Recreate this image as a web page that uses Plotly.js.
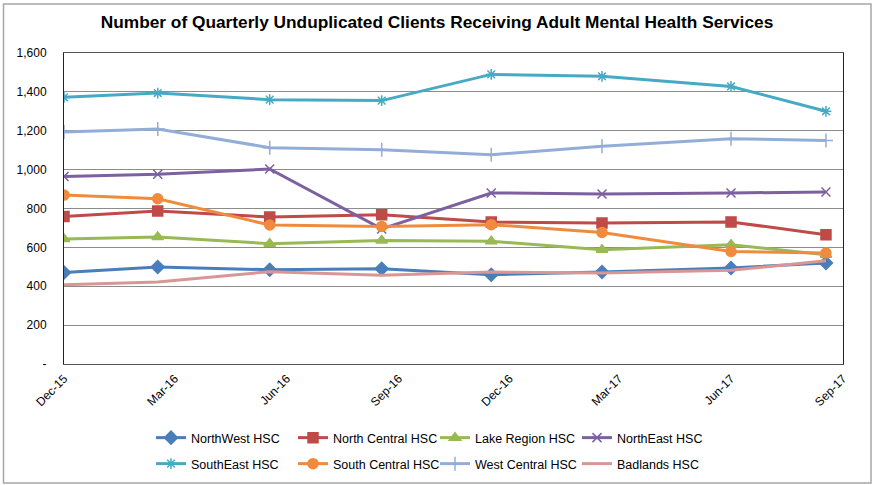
<!DOCTYPE html>
<html>
<head>
<meta charset="utf-8">
<script src="https://cdn.plot.ly/plotly-3.0.1.min.js"></script>
<style>html,body{margin:0;padding:0;background:#fff;}#chart{width:877px;height:485px;}</style>
</head>
<body>
<div id="chart"></div>
<script>
// Data
const dates = ["2015-12-01", "2016-02-16", "2016-05-18", "2016-08-18", "2016-11-16", "2017-02-15", "2017-06-01", "2017-08-18"];
const northWest    = [471, 499, 485, 490, 459, 473, 494, 520];
const northCentral = [759, 787, 756, 768, 730, 725, 731, 665];
const lakeRegion   = [643, 653, 619, 636, 631, 588, 614, 562];
const northEast    = [965, 976, 1003, 695, 880, 875, 880, 885];
const southEast    = [1372, 1394, 1360, 1355, 1490, 1480, 1428, 1300];
const southCentral = [869, 850, 715, 708, 717, 677, 579, 571];
const westCentral  = [1194, 1209, 1113, 1102, 1077, 1120, 1159, 1150];
const badlands     = [408, 422, 475, 456, 473, 468, 482, 531];
const seriesNames  = ["NorthWest HSC", "North Central HSC", "Lake Region HSC", "NorthEast HSC",
                      "SouthEast HSC", "South Central HSC", "West Central HSC", "Badlands HSC"];
const yTickVals    = [0, 200, 400, 600, 800, 1000, 1200, 1400, 1600];
const yTickText    = ["-", "200", "400", "600", "800", "1,000", "1,200", "1,400", "1,600"];
const titleText    = "Number of Quarterly Unduplicated Clients Receiving Adult Mental Health Services";

const values  = [northWest, northCentral, lakeRegion, northEast, southEast, southCentral, westCentral, badlands];
const colors  = ["#4A7EBB", "#BE4B48", "#98B954", "#7D60A0", "#46AAC5", "#F08B3D", "#93AED6", "#D99694"];
const symbols = ["diamond", "square", "triangle-up", "x-thin-open", "asterisk-open", "circle", "cross-thin-open", null];
const msizes  = [10, 10, 10, 9, 9, 10, 10, 0];

const traces = values.map((v, i) => {
  const t = {
    x: dates, y: v, name: seriesNames[i], type: "scatter",
    mode: symbols[i] ? "lines+markers" : "lines",
    line: {color: colors[i], width: 3},
    legend: i < 4 ? "legend" : "legend2"
  };
  if (symbols[i]) t.marker = {symbol: symbols[i], size: msizes[i], color: colors[i], line: {color: colors[i], width: 1.5}};
  return t;
});

const L = 64, R = 843, T = 53, B = 364, W = 877, H = 485;
const pw = R - L, ph = B - T;
const px2x = p => (p - L) / pw;
const px2y = p => (B - p) / ph;

const legendBase = {
  orientation: "h", x: px2x(151), xanchor: "left", yanchor: "middle",
  entrywidth: 97, entrywidthmode: "pixels", traceorder: "normal",
  font: {family: "Liberation Sans, Arial, sans-serif", size: 12.5, color: "#000"},
  bgcolor: "rgba(0,0,0,0)", itemwidth: 30
};

const layout = {
  width: W, height: H,
  margin: {l: L, r: W - R, t: T, b: H - B, pad: 0, autoexpand: false},
  paper_bgcolor: "#ffffff", plot_bgcolor: "#ffffff",
  font: {family: "Liberation Sans, Arial, sans-serif", size: 11, color: "#000"},
  title: {text: "<b>" + titleText + "</b>", font: {family: "Liberation Sans, Arial, sans-serif", size: 17.3, color: "#000"},
          x: (101 + 773) / 2 / W, xref: "container", xanchor: "center", y: 1 - 22 / H, yanchor: "middle"},
  xaxis: {
    type: "date", range: ["2015-12-01", "2017-09-01"], dtick: "M3", tick0: "2015-12-01",
    tickformat: "%b-%y", tickangle: -45, showgrid: false, zeroline: false,
    showline: true, linecolor: "#555", linewidth: 1, mirror: true, ticks: "", ticklen: 0,
    ticklabelstandoff: 2,
    tickfont: {size: 12, color: "#000"}
  },
  yaxis: {
    range: [0, 1600], tickvals: yTickVals, ticktext: yTickText, showgrid: true, gridcolor: "#8c8c8c", gridwidth: 1,
    zeroline: false, showline: true, linecolor: "#222", linewidth: 1, mirror: true, ticks: "", ticklen: 0,
    ticklabelstandoff: 14,
    tickfont: {size: 12, color: "#000"}
  },
  showlegend: true,
  legend: Object.assign({}, legendBase, {y: px2y(438)}),
  legend2: Object.assign({}, legendBase, {y: px2y(464)}),
  shapes: [{
    type: "rect", xref: "paper", yref: "paper",
    x0: px2x(3.5), x1: px2x(871), y0: px2y(483), y1: px2y(4),
    line: {color: "#a6a6a6", width: 1.5}, fillcolor: "rgba(0,0,0,0)", layer: "below"
  }]
};

Plotly.newPlot("chart", traces, layout, {staticPlot: true, displayModeBar: false});
</script>
</body>
</html>
